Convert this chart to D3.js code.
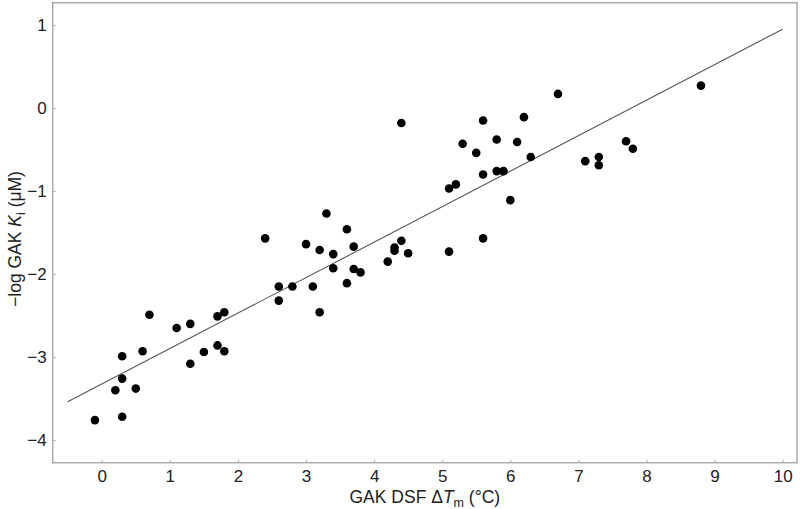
<!DOCTYPE html>
<html>
<head>
<meta charset="utf-8">
<script src="https://cdn.jsdelivr.net/npm/d3@7"></script>
<style>
  body { margin: 0; background: #fff; }
  text { font-family: "Liberation Sans", Arial, sans-serif; }
</style>
</head>
<body>
<svg class="chart"></svg>
<script>

// delta Tm (x) and -log Ki (y)
let dTm = [
  -0.1, 0.2, 0.3, 0.3, 0.3, 0.5, 0.6, 0.7, 1.1, 1.3,
  1.3, 1.5, 1.7, 1.7, 1.8, 1.8, 2.4, 2.6, 2.6, 2.8,
  3.0, 3.1, 3.2, 3.2, 3.3, 3.4, 3.4, 3.6, 3.6, 3.7,
  3.7, 3.8, 4.2, 4.3, 4.3, 4.4, 4.4, 4.5, 5.1, 5.1,
  5.2, 5.3, 5.5, 5.6, 5.6, 5.6, 5.8, 5.8, 5.9, 6.0,
  6.1, 6.2, 6.3, 6.7, 7.1, 7.3, 7.3, 7.7, 7.8, 8.8
]
let logKi = [
  -3.76, -3.40, -2.99, -3.26, -3.72, -3.38, -2.93, -2.49, -2.65, -2.60,
  -3.08, -2.94, -2.51, -2.86, -2.46, -2.93, -1.57, -2.15, -2.32, -2.15,
  -1.64, -2.15, -1.71, -2.46, -1.27, -1.76, -1.93, -1.46, -2.11, -1.67,
  -1.94, -1.98, -1.85, -1.68, -1.72, -1.60, -0.18, -1.75, -0.97, -1.73,
  -0.92, -0.43, -0.54, -0.15, -0.80, -1.57, -0.38, -0.76, -0.76, -1.11,
  -0.41, -0.11, -0.59, 0.17, -0.64, -0.59, -0.69, -0.40, -0.49, 0.27
]

// fitted line end points
let fitX = [-0.5, 10]
let fitY = [-3.54, 0.95]

let xTicks = [0, 1, 2, 3, 4, 5, 6, 7, 8, 9, 10]
let yTicks = [-4, -3, -2, -1, 0, 1]

let margin = { top: 2.7, right: 3, bottom: 46.3, left: 52.7 }
let width = 800 - margin.left - margin.right
let height = 509 - margin.top - margin.bottom

let x = d3.scaleLinear().domain([-0.72, 10.21]).range([0, width])
let y = d3.scaleLinear().domain([-4.273, 1.269]).range([height, 0])

let svg = d3.select(".chart")
    .attr("width", 800)
    .attr("height", 509)
  .append("g")
    .attr("transform", "translate(" + margin.left + "," + margin.top + ")")

let xAxis = svg.append("g")
    .attr("transform", "translate(0," + height + ")")
    .call(d3.axisBottom(x).tickValues(xTicks).tickSize(-3).tickPadding(7).tickFormat(d3.format("d")))

let yAxis = svg.append("g")
    .call(d3.axisLeft(y).tickValues(yTicks).tickSize(-3).tickPadding(6).tickFormat(d3.format("d")))

;[xAxis, yAxis].forEach(function(a) {
  a.select(".domain").remove()
  a.selectAll(".tick line").attr("stroke", "#b0b0b0")
  a.selectAll(".tick text")
    .attr("fill", "#222")
    .style("font-size", "17px")
    .style("font-family", "'Liberation Sans', Arial, sans-serif")
})

svg.append("rect")
    .attr("width", width)
    .attr("height", height)
    .attr("fill", "none")
    .attr("stroke", "#aaa")
    .attr("stroke-width", 1.5)

let line = d3.line()
  .x(function(d) { return x(d[0]) })
  .y(function(d) { return y(d[1]) })

svg.append("path")
    .attr("d", line(d3.zip(fitX, fitY)))
    .attr("fill", "none")
    .attr("stroke", "#555")
    .attr("stroke-width", 1.1)

svg.selectAll(".dot")
    .data(d3.zip(dTm, logKi))
  .enter().append("circle")
    .attr("class", "dot")
    .attr("cx", function(d) { return x(d[0]) })
    .attr("cy", function(d) { return y(d[1]) })
    .attr("r", 4.3)
    .attr("fill", "#000")

// x title
let xt = svg.append("text")
    .attr("x", width / 2)
    .attr("y", height + 40.5)
    .attr("text-anchor", "middle")
    .attr("fill", "#222")
    .style("font-size", "17.5px")
xt.append("tspan").text("GAK DSF \u0394")
xt.append("tspan").attr("font-style", "italic").text("T")
xt.append("tspan").attr("dy", 4).style("font-size", "12.5px").text("m")
xt.append("tspan").attr("dy", -4).text(" (\u00b0C)")

// y title
let yt = svg.append("text")
    .attr("transform", "translate(" + (20.5 - margin.left) + "," + (239 - margin.top) + ") rotate(-90)")
    .attr("text-anchor", "middle")
    .attr("fill", "#222")
    .style("font-size", "17.5px")
yt.append("tspan").text("\u2212log GAK ")
yt.append("tspan").attr("font-style", "italic").text("K")
yt.append("tspan").attr("dy", 4).style("font-size", "12.5px").text("i")
yt.append("tspan").attr("dy", -4).text(" (\u03bcM)")

</script>
</body>
</html>
